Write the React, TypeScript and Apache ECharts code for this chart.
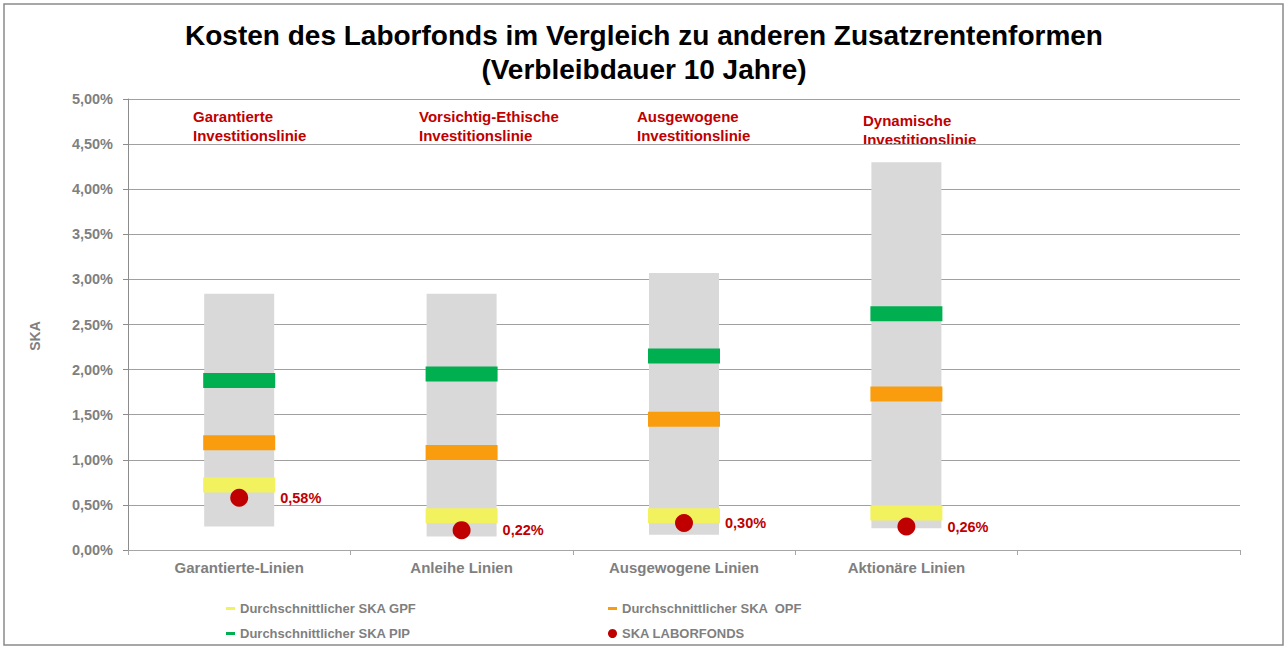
import React, { useEffect, useRef } from "react";
import * as echarts from "echarts";

const categories = ["Garantierte-Linien", "Anleihe Linien", "Ausgewogene Linien", "Aktionäre Linien", ""];
const rangeMin = [0.26, 0.15, 0.17, 0.24];
const rangeMax = [2.84, 2.84, 3.07, 4.3];
const gpf = [0.72, 0.38, 0.38, 0.41];
const opf = [1.19, 1.08, 1.45, 1.73];
const pip = [1.88, 1.95, 2.15, 2.62];
const laborfonds = [0.58, 0.22, 0.3, 0.26];
const lineNotes = [
  "Garantierte\nInvestitionslinie",
  "Vorsichtig-Ethische\nInvestitionslinie",
  "Ausgewogene\nInvestitionslinie",
  "Dynamische\nInvestitionslinie",
];
const seriesNames = [
  "Durchschnittlicher SKA GPF",
  "Durchschnittlicher SKA  OPF",
  "Durchschnittlicher SKA PIP",
  "SKA LABORFONDS",
];

const FONT = "'Liberation Sans', Arial, sans-serif";
const GREY = "#7f7f7f";
const RED = "#C00000";

const fmt = (v: number) => v.toFixed(2).replace(".", ",") + "%";

export default function App() {
  const ref = useRef<HTMLDivElement>(null);
  useEffect(() => {
    if (!ref.current) return;
    const chart = echarts.init(ref.current, null, { renderer: "svg" });
    const range = rangeMax.map((m, i) => +(m - rangeMin[i]).toFixed(4));
    const legendBase = {
      orient: "vertical",
      itemWidth: 9,
      itemHeight: 3,
      textStyle: { color: GREY, fontWeight: "bold", fontSize: 13, fontFamily: FONT },
    };
    const noteX = [193, 419, 637, 863];
    const noteY = [107, 107, 107, 111];
    chart.setOption({
      animation: false,
      textStyle: { fontFamily: FONT },
      title: {
        text: "Kosten des Laborfonds im Vergleich zu anderen Zusatzrentenformen\n(Verbleibdauer 10 Jahre)",
        left: "center",
        top: 13,
        textStyle: { fontSize: 28, fontWeight: "bold", color: "#000", lineHeight: 34, fontFamily: FONT },
      },
      legend: [
        { ...legendBase, left: 221, top: 597, data: [{ name: seriesNames[0], icon: "rect" }] },
        { ...legendBase, left: 221, top: 622, data: [{ name: seriesNames[2], icon: "rect" }] },
        { ...legendBase, left: 603, top: 597, data: [{ name: seriesNames[1], icon: "rect" }] },
        { ...legendBase, left: 603, top: 622, itemHeight: 9, data: [{ name: seriesNames[3], icon: "circle" }] },
      ],
      grid: { left: 128, right: 48, top: 99, bottom: 99 },
      xAxis: {
        type: "category",
        data: categories,
        axisLine: { lineStyle: { color: "#a6a6a6", width: 1 } },
        axisTick: { show: true, alignWithLabel: false, length: 5, lineStyle: { color: "#a6a6a6" } },
        axisLabel: { color: GREY, fontWeight: "bold", fontSize: 15, margin: 10, fontFamily: FONT },
      },
      yAxis: {
        type: "value",
        min: 0,
        max: 5,
        interval: 0.5,
        axisLine: { show: true, lineStyle: { color: "#8c8c8c" } },
        axisTick: { show: true, length: 5, lineStyle: { color: "#8c8c8c" } },
        axisLabel: { color: GREY, fontWeight: "bold", fontSize: 14.5, margin: 15, formatter: fmt, fontFamily: FONT },
        splitLine: { lineStyle: { color: "#a0a0a0", width: 1 } },
      },
      series: [
        {
          name: "base",
          type: "bar",
          stack: "range",
          barWidth: 70,
          data: rangeMin,
          itemStyle: { color: "transparent" },
          silent: true,
        },
        {
          name: "range",
          type: "bar",
          stack: "range",
          barWidth: 70,
          data: range,
          itemStyle: { color: "#D9D9D9" },
          silent: true,
        },
        {
          name: seriesNames[0],
          type: "scatter",
          symbol: "rect",
          symbolSize: [72, 15],
          data: gpf,
          itemStyle: { color: "#F2F25E", opacity: 1 },
          z: 3,
        },
        {
          name: seriesNames[1],
          type: "scatter",
          symbol: "rect",
          symbolSize: [72, 15],
          data: opf,
          itemStyle: { color: "#F99D0F", opacity: 1 },
          z: 3,
        },
        {
          name: seriesNames[2],
          type: "scatter",
          symbol: "rect",
          symbolSize: [72, 15],
          data: pip,
          itemStyle: { color: "#00B050", opacity: 1 },
          z: 3,
        },
        {
          name: seriesNames[3],
          type: "scatter",
          symbol: "circle",
          symbolSize: 18,
          data: laborfonds,
          itemStyle: { color: RED, opacity: 1 },
          z: 4,
          label: {
            show: true,
            position: "right",
            distance: 32,
            formatter: (p: any) => fmt(p.value as number),
            color: RED,
            fontWeight: "bold",
            fontSize: 14.5,
            fontFamily: FONT,
          },
        },
      ],
      graphic: [
        {
          type: "rect",
          shape: { x: 4, y: 4, width: 1279, height: 641 },
          style: { fill: "none", stroke: "#8a8a8a", lineWidth: 1.5 },
          silent: true,
          z: -1,
        },
        {
          type: "text",
          x: 35,
          y: 336,
          rotation: Math.PI / 2,
          style: {
            text: "SKA",
            fill: GREY,
            font: `bold 14px ${FONT}`,
            align: "center",
            verticalAlign: "middle",
          },
        },
        ...lineNotes.map((t, i) => ({
          type: "text",
          x: noteX[i],
          y: noteY[i],
          style: {
            text: t,
            fill: RED,
            font: `bold 15px ${FONT}`,
            lineHeight: 19,
          },
        })),
      ],
    });
    return () => chart.dispose();
  }, []);
  return <div ref={ref} style={{ position: "fixed", left: 0, top: 0, width: 1288, height: 649, background: "#fff" }} />;
}
